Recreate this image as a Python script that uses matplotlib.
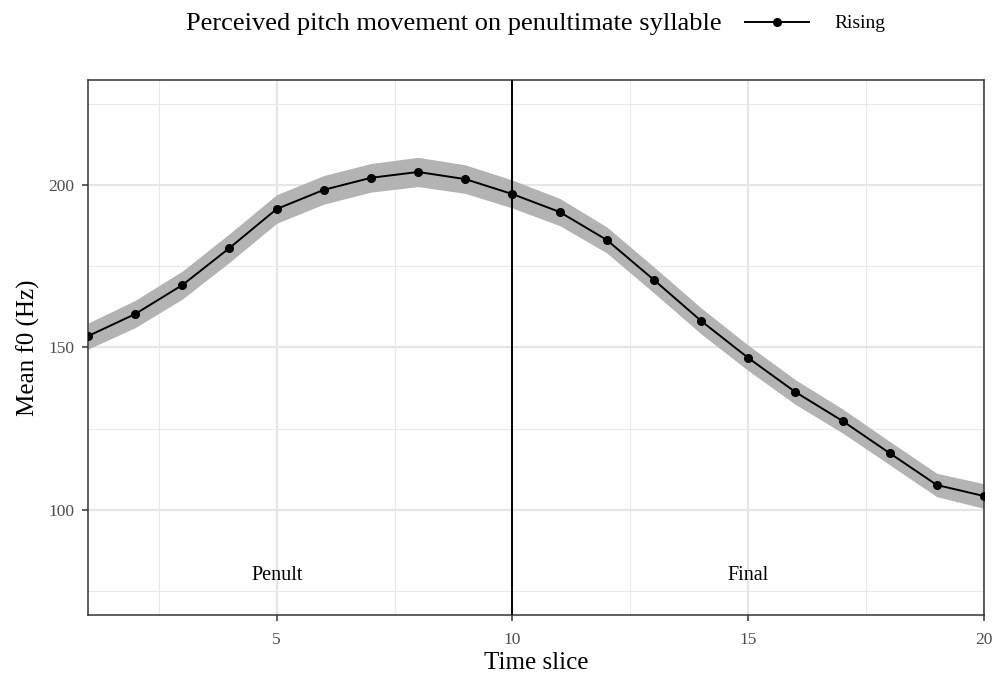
import matplotlib
matplotlib.use("Agg")
import matplotlib.pyplot as plt
from matplotlib.lines import Line2D
import numpy as np

# Mean f0 per time slice, penultimate + final syllable (rising group)
time_slice = np.arange(1, 21)
mean_f0 = [153.5, 160.3, 169.2, 180.6, 192.6, 198.5, 202.2, 204.0, 201.8, 197.2,
           191.7, 183.1, 170.8, 158.2, 146.8, 136.3, 127.4, 117.5, 107.7, 104.3]
ci = [4.0, 4.2, 4.3, 4.4, 4.4, 4.4, 4.4, 4.5, 4.4, 4.3,
      4.2, 4.0, 4.0, 4.0, 3.9, 3.8, 3.7, 3.6, 3.6, 3.8]
lower = np.array(mean_f0) - np.array(ci)
upper = np.array(mean_f0) + np.array(ci)

boundary = 10
syllables = ["Penult", "Final"]
syllable_x = [5, 15]
syllable_y = 80

plt.rcParams["font.family"] = ["Liberation Serif", "DejaVu Serif"]

fig = plt.figure(figsize=(10, 6.76), dpi=100)
ax = fig.add_axes([0.088, 0.0902, 0.896, 0.7915])

ax.fill_between(time_slice, lower, upper, color="#B3B3B3", linewidth=0, zorder=2)
ax.plot(time_slice, mean_f0, color="black", linewidth=1.4, marker="o",
        markersize=5.5, zorder=3)
ax.axvline(boundary, color="black", linewidth=1.4, zorder=4)

for name, x in zip(syllables, syllable_x):
    ax.text(x, syllable_y, name, ha="center", va="center", fontsize=14.5, zorder=5)

ax.set_xlim(1, 20)
ax.set_ylim(67.7, 232.3)
ax.set_xticks([5, 10, 15, 20])
ax.set_xticks([2.5, 7.5, 12.5, 17.5], minor=True)
ax.set_yticks([100, 150, 200])
ax.set_yticks([75, 125, 175, 225], minor=True)

ax.grid(which="major", color="#E6E6E6", linewidth=1.6, zorder=0)
ax.grid(which="minor", color="#E9E9E9", linewidth=0.8, zorder=0)
ax.set_axisbelow(True)

for s in ax.spines.values():
    s.set_color("#333333")
    s.set_linewidth(1.1)

ax.tick_params(which="major", length=4, width=1.1, color="#333333",
               labelsize=12.5, labelcolor="#4D4D4D")
ax.tick_params(axis="x", which="major", pad=8)
ax.tick_params(axis="y", which="major", pad=6)
ax.tick_params(which="minor", length=0)

ax.set_xlabel("Time slice", fontsize=18, labelpad=3)
ax.set_ylabel("Mean f0 (Hz)", fontsize=18, labelpad=6)

# legend across the top: title on the left, key to its right
fig.text(0.722, 0.964, "Perceived pitch movement on penultimate syllable",
         ha="right", va="center", fontsize=19)
handle = Line2D([], [], color="black", linewidth=1.4, marker="o", markersize=5.5)
fig.legend([handle], ["Rising"], loc="center left", bbox_to_anchor=(0.745, 0.965),
           frameon=False, fontsize=14, handlelength=3.3, handletextpad=1.3,
           borderpad=0, borderaxespad=0)

fig.savefig("out.png", dpi=100)
